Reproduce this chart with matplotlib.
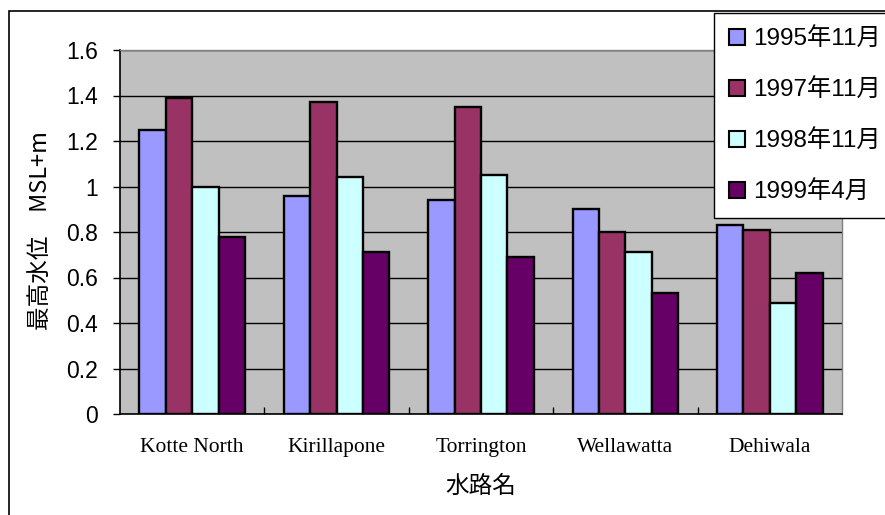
import matplotlib
matplotlib.use("Agg")
import matplotlib.pyplot as plt
import matplotlib.patches as mpatches
import numpy as np

categories = ["Kotte North", "Kirillapone", "Torrington", "Wellawatta", "Dehiwala"]
series_names = ["1995年11月", "1997年11月", "1998年11月", "1999年4月"]
v1995 = [1.25, 0.96, 0.94, 0.90, 0.83]
v1997 = [1.39, 1.37, 1.35, 0.80, 0.81]
v1998 = [1.00, 1.04, 1.05, 0.71, 0.49]
v1999 = [0.78, 0.71, 0.69, 0.53, 0.62]
y_ticks = [0, 0.2, 0.4, 0.6, 0.8, 1.0, 1.2, 1.4, 1.6]
y_tick_labels = ["0", "0.2", "0.4", "0.6", "0.8", "1", "1.2", "1.4", "1.6"]

colors = ["#9999FF", "#993366", "#CCFFFF", "#660066"]
sans = ["Liberation Sans", "Noto Sans CJK JP", "DejaVu Sans"]
cjk = ["Noto Sans CJK JP", "DejaVu Sans"]

W, H = 885, 515
fig = plt.figure(figsize=(W / 100, H / 100), dpi=100)
fig.patch.set_facecolor("white")

L, R, T, B = 120, 842, 50, 414
ax = fig.add_axes([L / W, 1 - B / H, (R - L) / W, (B - T) / H])
ax.set_facecolor("#C0C0C0")

x = np.arange(len(categories))
bw = 0.73 / 4
all_series = [v1995, v1997, v1998, v1999]
for i, (vals, c, name) in enumerate(zip(all_series, colors, series_names)):
    ax.bar(x + (i - 1.5) * bw, vals, width=bw, color=c, edgecolor="black",
           linewidth=1.7, label=name, zorder=3)

ax.set_xlim(-0.5, len(categories) - 0.5)
ax.set_ylim(0, 1.6)
ax.set_yticks(y_ticks)
ax.set_yticklabels(y_tick_labels, family=sans, fontsize=16.5)
ax.yaxis.grid(True, color="black", linewidth=1.0, zorder=1)
ax.set_axisbelow(True)
ax.tick_params(axis="y", direction="out", length=5, width=1, pad=11)

ax.set_xticks(x)
ax.set_xticklabels(categories, family=["Liberation Serif"], fontsize=15.5)
ax.tick_params(axis="x", which="major", length=0, pad=17)
ax.set_xticks(np.arange(0.5, len(categories) - 0.5, 1.0), minor=True)
ax.tick_params(axis="x", which="minor", direction="in", length=5, width=1)

for s in ["left", "bottom"]:
    ax.spines[s].set_color("black")
    ax.spines[s].set_linewidth(1.2)
for s in ["top", "right"]:
    ax.spines[s].set_color("#808080")
    ax.spines[s].set_linewidth(1.0)

ax.set_xlabel("水路名", family=cjk, fontsize=17, labelpad=13)
fig.text(40 / W, 1 - 231 / H, "最高水位　MSL+m", family=cjk, fontsize=17,
         rotation=90, ha="center", va="center")

# outer chart border
fig.patches.append(mpatches.Rectangle((9 / W, -0.1), 1.2, 1 - 11 / H + 0.1,
                                      transform=fig.transFigure, fill=False,
                                      edgecolor="black", linewidth=1.2, zorder=0))

handles = [mpatches.Patch(facecolor=c, edgecolor="black", linewidth=1.5) for c in colors]
leg = fig.legend(handles, series_names, loc="upper left",
                 bbox_to_anchor=(714 / W, 1 - 13 / H), bbox_transform=fig.transFigure,
                 prop={"family": sans, "size": 17.5}, frameon=True, fancybox=False,
                 edgecolor="black", framealpha=1, borderpad=0.6, labelspacing=1.15,
                 handlelength=0.66, handleheight=0.66, handletextpad=0.33,
                 borderaxespad=0)
leg.get_frame().set_linewidth(1.0)

fig.savefig("out.png", dpi=100)
